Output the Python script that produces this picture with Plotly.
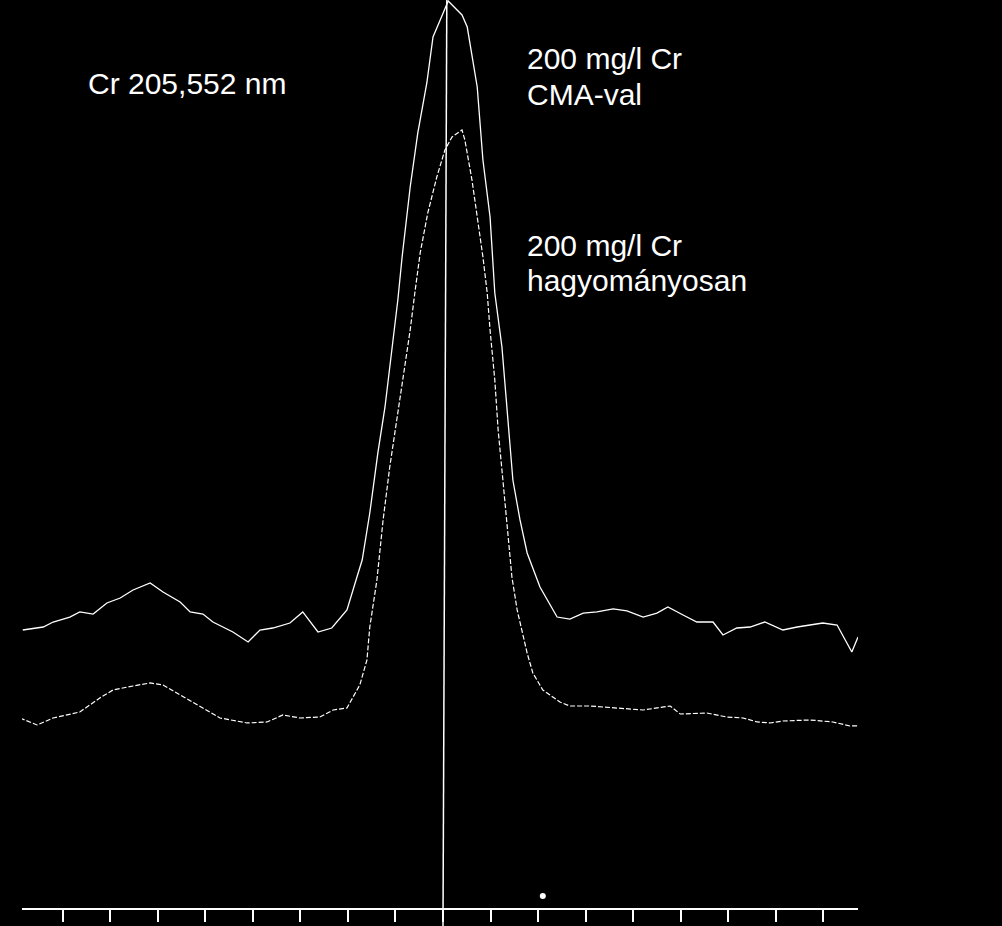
import plotly.graph_objects as go

# Cr 205,552 nm emission line profile, x = position in tick steps from line centre,
# y = relative intensity (CMA peak = 100)
cma_x = [-8.84, -8.41, -8.20, -7.85, -7.64, -7.36, -7.07, -6.79, -6.52, -6.16,
         -5.89, -5.53, -5.32, -5.05, -4.84, -4.42, -4.10, -3.85, -3.58, -3.22,
         -2.95, -2.63, -2.34, -2.02, -1.81, -1.70, -1.54, -1.37, -1.22, -1.07,
         -0.95, -0.86, -0.69, -0.53, -0.34, -0.21, -0.06, 0.11, 0.40, 0.51,
         0.72, 0.84, 0.99, 1.09, 1.24, 1.35, 1.47, 1.62, 1.77, 2.04,
         2.40, 2.67, 2.95, 3.24, 3.58, 3.87, 4.21, 4.50, 4.73, 5.05,
         5.34, 5.68, 5.89, 6.18, 6.46, 6.77, 7.15, 7.45, 7.99, 8.29,
         8.60, 8.73]
cma_y = [30.65, 30.98, 31.53, 32.08, 32.64, 32.41, 33.63, 34.18, 35.06, 35.83,
         34.84, 33.74, 32.64, 32.41, 31.53, 30.43, 29.33, 30.65, 30.87, 31.42,
         32.64, 30.43, 30.87, 32.86, 36.49, 38.37, 43.55, 50.17, 55.24, 61.85,
         67.03, 71.78, 79.49, 85.45, 90.96, 96.03, 97.91, 100.00, 98.46, 97.13,
         90.52, 82.47, 76.19, 67.81, 61.85, 55.24, 47.19, 42.78, 39.14, 35.39,
         32.08, 31.86, 32.52, 32.64, 32.97, 32.75, 32.08, 32.52, 33.19, 32.30,
         31.53, 31.53, 30.10, 30.87, 30.98, 31.53, 30.65, 30.98, 31.42, 31.20,
         28.22, 29.88]

conv_x = [-8.90, -8.54, -8.20, -7.64, -7.22, -6.94, -6.52, -6.16, -5.89, -5.60,
          -5.11, -4.69, -4.12, -3.70, -3.37, -3.01, -2.59, -2.31, -2.02, -1.75,
          -1.60, -1.54, -1.39, -1.26, -1.12, -0.97, -0.84, -0.69, -0.59, -0.48,
          -0.32, -0.13, 0.04, 0.19, 0.40, 0.46, 0.61, 0.72, 0.84, 0.93,
          0.99, 1.09, 1.16, 1.26, 1.37, 1.45, 1.56, 1.77, 1.89, 2.10,
          2.46, 2.67, 3.09, 3.66, 4.21, 4.78, 4.99, 5.55, 5.97, 6.31,
          6.61, 6.88, 7.15, 7.72, 8.20, 8.56, 8.81]
conv_y = [20.95, 20.18, 20.95, 21.61, 23.15, 24.04, 24.48, 24.81, 24.59, 23.70,
          22.16, 20.95, 20.40, 20.51, 21.28, 20.95, 21.06, 21.83, 22.05, 24.59,
          27.34, 30.98, 36.16, 42.78, 48.62, 53.80, 58.54, 63.73, 67.92, 72.22,
          76.63, 80.60, 83.57, 85.01, 85.78, 84.68, 80.26, 76.19, 71.78, 67.81,
          63.73, 58.21, 52.70, 47.19, 41.34, 36.49, 32.86, 28.11, 25.91, 24.04,
          22.71, 22.27, 22.27, 22.05, 21.83, 22.27, 21.39, 21.50, 21.06, 20.95,
          20.51, 20.40, 20.62, 20.73, 20.51, 20.07, 20.07]

# small speck just above the axis on the original recording
speck_x = [2.10]
speck_y = [1.32]

tick_vals = list(range(-8, 9))
line_centre = 0

W, H = 1002, 926
FONT = "Liberation Sans, Arial, sans-serif"

fig = go.Figure()

fig.add_trace(go.Scatter(x=cma_x, y=cma_y, mode="lines",
                         line=dict(color="white", width=1.3), showlegend=False))
fig.add_trace(go.Scatter(x=conv_x, y=conv_y, mode="lines",
                         line=dict(color="white", width=1.2, dash="5px,2px"),
                         showlegend=False))
fig.add_trace(go.Scatter(x=speck_x, y=speck_y, mode="markers",
                         marker=dict(color="white", size=6, line=dict(width=0)),
                         showlegend=False))

# vertical marker at the line centre, runs over the full height
fig.add_shape(type="line", xref="x", yref="paper",
              x0=line_centre, x1=line_centre + 0.08, y0=0, y1=1,
              line=dict(color="white", width=1.5))


def label(text, px, py):
    # px, py in screen pixels (top-left origin) -> paper coords
    fig.add_annotation(text=text, x=px / W, y=1 - py / H, xref="paper", yref="paper",
                       xanchor="left", yanchor="middle", showarrow=False,
                       font=dict(family=FONT, size=30, color="white"))


label("Cr 205,552 nm", 86, 83)
label("200 mg/l Cr", 525, 59)
label("CMA-val", 525, 94)
label("200 mg/l Cr", 525, 245)
label("hagyományosan", 525, 280)

fig.update_layout(
    width=W, height=H,
    margin=dict(l=0, r=0, t=0, b=0),
    paper_bgcolor="black", plot_bgcolor="black",
    xaxis=dict(domain=[22 / W, 858 / W], range=[-8.856, 8.730],
               showgrid=False, zeroline=False, showline=True,
               linecolor="white", linewidth=2,
               tickvals=tick_vals, ticks="outside", ticklen=12,
               tickwidth=1.5, tickcolor="white", showticklabels=False),
    yaxis=dict(domain=[18 / H, 1], range=[0, 100.11],
               showgrid=False, zeroline=False, showline=False,
               showticklabels=False, ticks=""),
)

# drop the browser's default page margin so the figure fills the window
fig.write_html("out.html", config={"displayModeBar": False}, post_script=(
    "document.body.style.margin='0';"
    "document.body.style.background='black';"
    "document.body.style.overflow='hidden';"
))
